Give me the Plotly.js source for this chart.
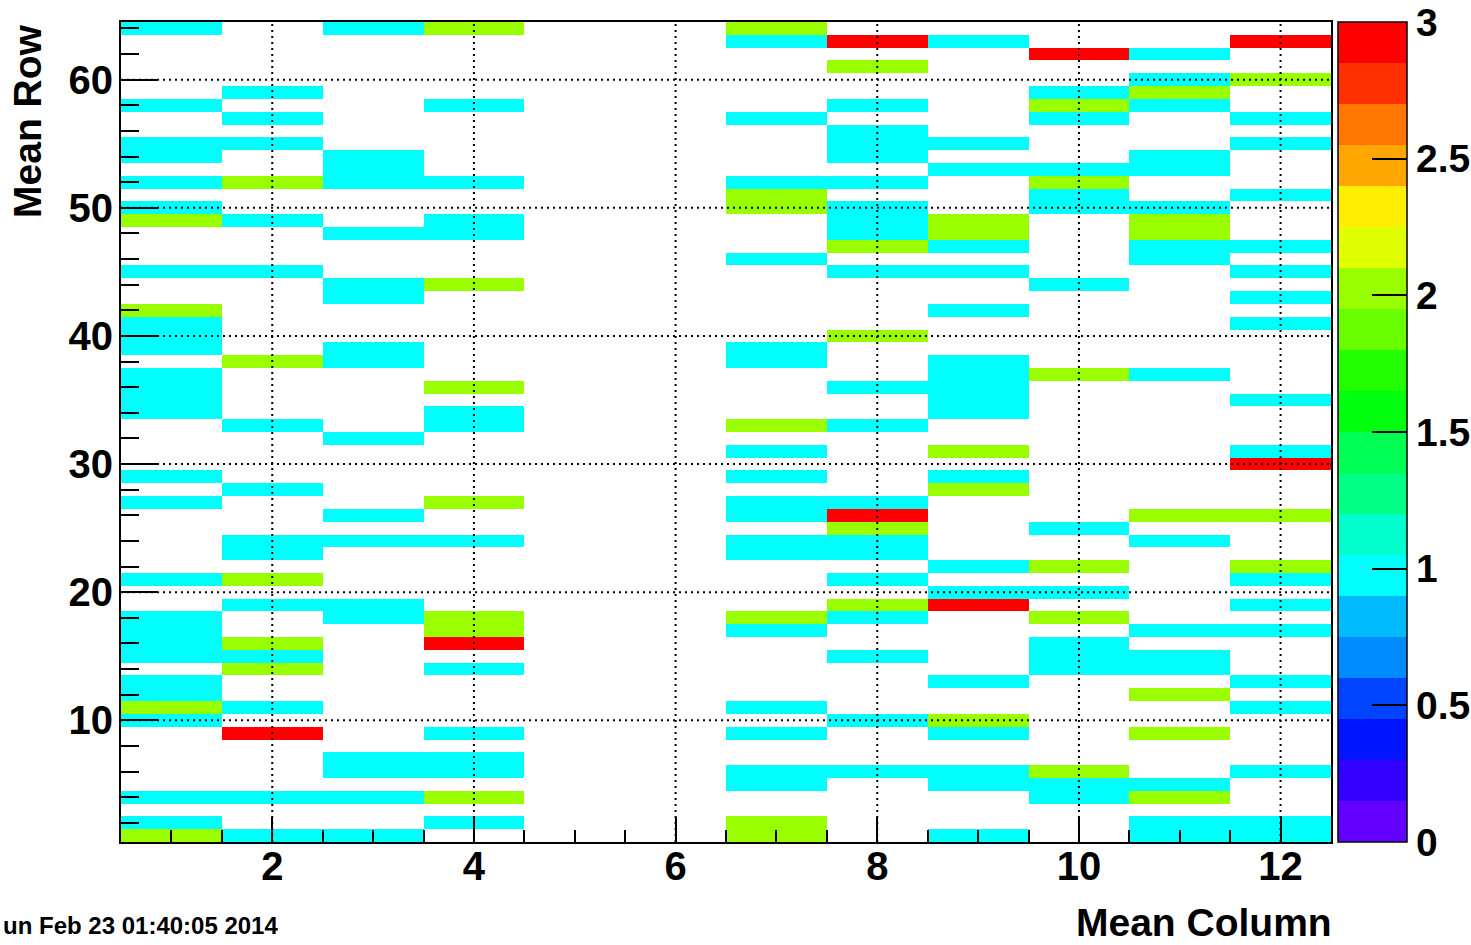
<!DOCTYPE html>
<html><head><meta charset="utf-8">
<script src="https://cdn.plot.ly/plotly-3.0.1.min.js"></script>
<style>html,body{margin:0;padding:0;background:#fff;} #chart{width:1471px;height:945px;}</style>
</head><body><div id="chart"></div>
<script>
// Bin centres
const columns = [1,2,3,4,5,6,7,8,9,10,11,12];
const rows = [1,2,3,4,5,6,7,8,9,10,11,12,13,14,15,16,17,18,19,20,21,22,23,24,25,26,27,28,29,30,31,32,
              33,34,35,36,37,38,39,40,41,42,43,44,45,46,47,48,49,50,51,52,53,54,55,56,57,58,59,60,61,62,63,64];

// Cell contents per column, index 0 = row 1 ... index 63 = row 64 (0 = empty)
const col1  = [2,1,0,1,0,0,0,0, 0,1,2,1,1,0,1,1, 1,1,0,0,1,0,0,0, 0,0,1,0,1,0,0,0, 0,1,1,1,1,0,1,1, 1,2,0,0,1,0,0,0, 2,1,0,1,0,1,1,0, 0,1,0,0,0,0,0,1];
const col2  = [1,0,0,1,0,0,0,0, 3,0,1,0,0,2,1,2, 0,0,1,0,2,0,1,1, 0,0,0,1,0,0,0,0, 1,0,0,0,0,2,0,0, 0,0,0,0,1,0,0,0, 1,0,0,2,0,0,1,0, 1,0,1,0,0,0,0,0];
const col3  = [1,0,0,1,0,1,1,0, 0,0,0,0,0,0,0,0, 0,1,1,0,0,0,0,1, 0,1,0,0,0,0,0,1, 0,0,0,0,0,1,1,0, 0,0,1,1,0,0,0,1, 0,0,0,1,1,1,0,0, 0,0,0,0,0,0,0,1];
const col4  = [0,1,0,2,0,1,1,0, 1,0,0,0,0,1,0,3, 2,2,0,0,0,0,0,1, 0,0,2,0,0,0,0,0, 1,1,0,2,0,0,0,0, 0,0,0,2,0,0,0,1, 1,0,0,1,0,0,0,0, 0,1,0,0,0,0,0,2];
const col5  = [0,0,0,0,0,0,0,0, 0,0,0,0,0,0,0,0, 0,0,0,0,0,0,0,0, 0,0,0,0,0,0,0,0, 0,0,0,0,0,0,0,0, 0,0,0,0,0,0,0,0, 0,0,0,0,0,0,0,0, 0,0,0,0,0,0,0,0];
const col6  = [0,0,0,0,0,0,0,0, 0,0,0,0,0,0,0,0, 0,0,0,0,0,0,0,0, 0,0,0,0,0,0,0,0, 0,0,0,0,0,0,0,0, 0,0,0,0,0,0,0,0, 0,0,0,0,0,0,0,0, 0,0,0,0,0,0,0,0];
const col7  = [2,2,0,0,1,1,0,0, 1,0,1,0,0,0,0,0, 1,2,0,0,0,0,1,1, 0,1,1,0,1,0,1,0, 2,0,0,0,0,1,1,0, 0,0,0,0,0,1,0,0, 0,2,2,1,0,0,0,0, 1,0,0,0,0,0,1,2];
const col8  = [0,0,0,0,0,1,0,0, 0,1,0,0,0,0,1,0, 0,1,2,0,1,0,1,1, 2,3,1,0,0,0,0,0, 1,0,0,1,0,0,0,2, 0,0,0,0,1,0,2,1, 1,1,0,1,0,1,1,1, 0,1,0,0,2,0,3,0];
const col9  = [1,0,0,0,1,1,0,0, 1,2,0,0,1,0,0,0, 0,0,3,1,0,1,0,0, 0,0,0,2,1,0,2,0, 0,1,1,1,1,1,0,0, 0,1,0,0,1,0,1,2, 2,0,0,0,1,0,1,0, 0,0,0,0,0,0,1,0];
const col10 = [0,0,0,1,1,2,0,0, 0,0,0,0,0,1,1,1, 0,2,0,1,0,2,0,0, 1,0,0,0,0,0,0,0, 0,0,0,0,2,0,0,0, 0,0,0,1,0,0,0,0, 0,1,1,2,1,0,0,0, 1,2,1,0,0,3,0,0];
const col11 = [1,1,0,2,1,0,0,0, 2,0,0,2,0,1,1,0, 1,0,0,0,0,0,0,1, 0,2,0,0,0,0,0,0, 0,0,0,0,1,0,0,0, 0,0,0,0,0,1,1,2, 2,1,0,0,1,1,0,0, 0,1,2,1,0,1,0,0];
const col12 = [1,1,0,0,0,1,0,0, 0,0,1,0,1,0,0,0, 1,0,1,0,1,2,0,0, 0,2,0,0,0,3,1,0, 0,0,1,0,0,0,0,0, 1,0,1,0,1,0,1,0, 0,0,1,0,0,0,1,0, 1,0,0,2,0,0,3,0];

// Axis tick values / labels
const xGridTicks = [2,4,6,8,10,12];
const yGridTicks = [10,20,30,40,50,60];
const zTickVals = [0,0.5,1,1.5,2,2.5,3];
const zTickText = ['0','0.5','1','1.5','2','2.5','3'];

const allCols = [col1,col2,col3,col4,col5,col6,col7,col8,col9,col10,col11,col12];
const z = rows.map((r,i) => allCols.map(c => (c[i] === 0 ? null : c[i])));

// ROOT "pretty" palette sampled in 20 contour levels
const palette = ['#6300ff','#3300ff','#0014ff','#0044ff','#008bff','#00bbff','#00fffc','#00ffcc','#00ff85','#00ff55',
                 '#00ff0e','#22ff00','#69ff00','#99ff00','#e0ff00','#ffee00','#ffa700','#ff7700','#ff3000','#ff0000'];
const colorscale = [];
palette.forEach((c,k) => { colorscale.push([k/palette.length, c]); colorscale.push([(k+1)/palette.length, c]); });

const FONT = 'Liberation Sans, Arial, Helvetica, sans-serif';
const trace = {
  type: 'heatmap', x: columns, y: rows, z: z,
  zmin: 0, zmax: 3, colorscale: colorscale, zsmooth: false, hoverinfo: 'skip',
  colorbar: {
    x: 1.0058, xanchor: 'left', xref: 'paper', xpad: 0, ypad: 0,
    y: 0.5, yanchor: 'middle', len: 1, lenmode: 'fraction',
    thickness: 69, thicknessmode: 'pixels',
    outlinewidth: 1.5, outlinecolor: 'black',
    ticks: 'inside', ticklen: 35, tickwidth: 2, tickcolor: 'black',
    tickmode: 'array', tickvals: zTickVals, ticktext: zTickText,
    tickfont: {family: FONT, size: 39, color: 'black', weight: 'bold'}
  }
};

const shapes = [];
xGridTicks.forEach(v => shapes.push({type:'line', xref:'x', yref:'paper', x0:v, x1:v, y0:0, y1:1, layer:'above',
  line:{color:'black', width:2, dash:'2px,4px'}}));
yGridTicks.forEach(v => shapes.push({type:'line', xref:'paper', yref:'y', x0:0, x1:1, y0:v, y1:v, layer:'above',
  line:{color:'black', width:2, dash:'2px,4px'}}));

const layout = {
  width: 1471, height: 945,
  margin: {l:121, r:140, t:22, b:103, pad:0, autoexpand: false},
  paper_bgcolor: 'white', plot_bgcolor: 'white',
  showlegend: false,
  xaxis: {
    range: [0.5, 12.5], autorange: false, tickmode: 'linear', tick0: 0, dtick: 2,
    ticks: 'inside', ticklen: 25, tickwidth: 2, tickcolor: 'black',
    minor: {dtick: 0.5, tick0: 0, ticks: 'inside', ticklen: 12, tickwidth: 2, tickcolor: 'black', showgrid: false},
    showline: true, linewidth: 2, linecolor: 'black', mirror: true,
    showgrid: false, zeroline: false, layer: 'above traces',
    tickfont: {family: FONT, size: 40, color: 'black', weight: 'bold'},
    ticklabelstandoff: -12
  },
  yaxis: {
    range: [0.5, 64.5], autorange: false, tickmode: 'linear', tick0: 0, dtick: 10,
    ticks: 'inside', ticklen: 36, tickwidth: 2, tickcolor: 'black',
    minor: {dtick: 2, tick0: 0, ticks: 'inside', ticklen: 18, tickwidth: 2, tickcolor: 'black', showgrid: false},
    showline: true, linewidth: 2, linecolor: 'black', mirror: true,
    showgrid: false, zeroline: false, layer: 'above traces',
    tickfont: {family: FONT, size: 40, color: 'black', weight: 'bold'},
    ticklabelstandoff: -2
  },
  shapes: shapes,
  annotations: [
    {text: 'Mean Column', xref: 'paper', yref: 'paper', x: 1, xshift: 3, y: -0.0976, xanchor: 'right', yanchor: 'middle',
     showarrow: false, font: {family: FONT, size: 39, color: 'black', weight: 'bold'}},
    {text: 'Mean Row', xref: 'paper', yref: 'paper', x: -0.0777, y: 1, xanchor: 'center', yanchor: 'top',
     textangle: -90, showarrow: false, font: {family: FONT, size: 39, color: 'black', weight: 'bold'}},
    {text: 'un Feb 23 01:40:05 2014', xref: 'paper', yref: 'paper', x: -0.0992, y: -0.1024, xanchor: 'left', yanchor: 'middle',
     showarrow: false, font: {family: FONT, size: 24, color: 'black', weight: 'bold'}}
  ]
};

Plotly.newPlot('chart', [trace], layout, {staticPlot: true, displayModeBar: false});
</script>
</body></html>
